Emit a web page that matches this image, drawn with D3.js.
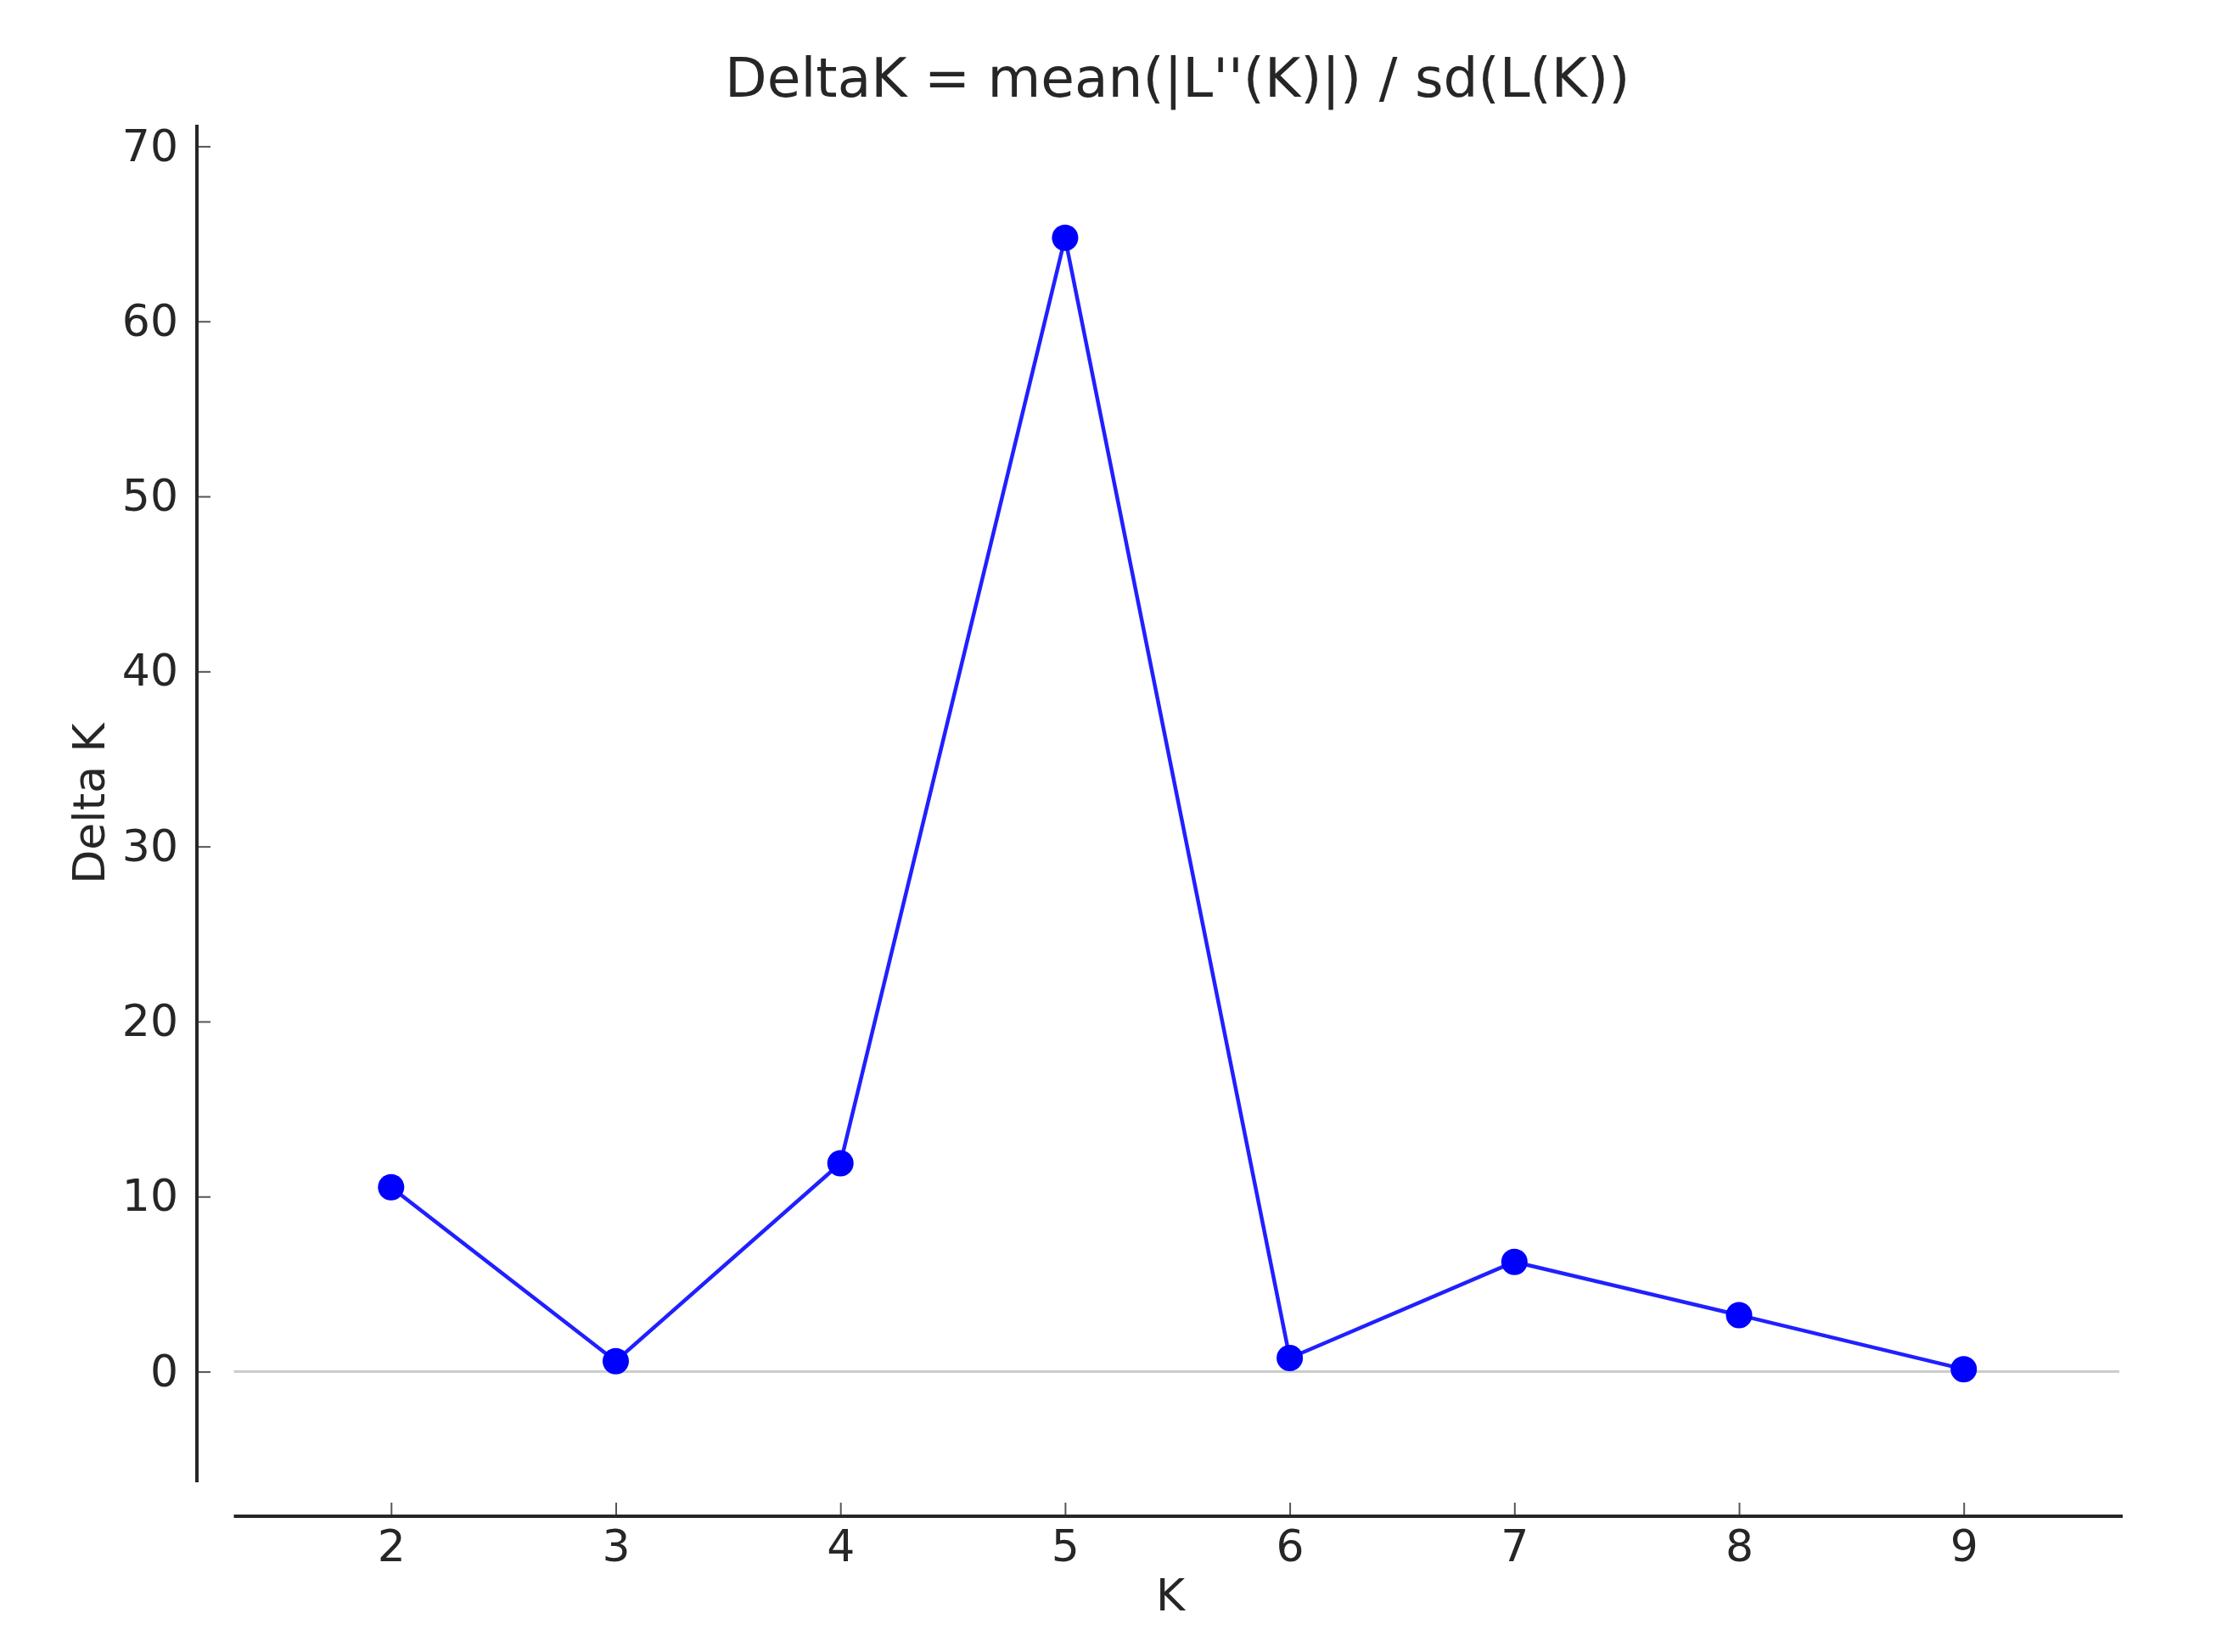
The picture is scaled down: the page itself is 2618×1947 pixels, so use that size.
<!DOCTYPE html>
<html>
<head>
<meta charset="utf-8">
<script src="https://cdn.jsdelivr.net/npm/d3@7"></script>
<style>
  html, body { margin: 0; padding: 0; background: #ffffff; }
  svg { display: block; }
  text { font-family: "DejaVu Sans", sans-serif; fill: #262626; }
</style>
</head>
<body>
<script>
// ---- data ----
const kValues = [2, 3, 4, 5, 6, 7, 8, 9];
const deltaK = [10.53, 0.6, 11.9, 64.77, 0.78, 6.27, 3.23, 0.14];
const xTicks = [2, 3, 4, 5, 6, 7, 8, 9];
const yTicks = [0, 10, 20, 30, 40, 50, 60, 70];
const titleText = "DeltaK = mean(|L''(K)|) / sd(L(K))";
const xLabel = "K";
const yLabel = "Delta K";

// ---- layout ----
const W = 2618, H = 1947;
const plot = { left: 275.5, right: 2499, top: 147, bottom: 1747 };
const ySpineX = 232;     // offset y spine
const xSpineY = 1787;    // offset x spine

const svg = d3.select("body").append("svg")
  .attr("width", W).attr("height", H);

// margins of 10% of data range, like the original
const xMin = d3.min(kValues), xMax = d3.max(kValues);
const yMin = d3.min(deltaK), yMax = d3.max(deltaK);
const xPad = (xMax - xMin) * 0.1, yPad = (yMax - yMin) * 0.1;

const x = d3.scaleLinear().domain([xMin - xPad, xMax + xPad]).range([plot.left, plot.right]);
const y = d3.scaleLinear().domain([yMin - yPad, yMax + yPad]).range([plot.bottom, plot.top]);

const axisColor = "#262626";

// zero reference line
svg.append("line")
  .attr("x1", plot.left).attr("x2", plot.right - 2)
  .attr("y1", y(0)).attr("y2", y(0))
  .attr("stroke", "#cccccc").attr("stroke-width", 3);

// y axis (spine offset outward, ticks pointing inward)
const yAxis = d3.axisLeft(y).tickValues(yTicks).tickSize(-16).tickPadding(22).tickFormat(d3.format("d"));
const gy = svg.append("g").attr("transform", `translate(${ySpineX},0)`).call(yAxis);
gy.select(".domain").remove();
gy.append("line").attr("x1", 0).attr("x2", 0).attr("y1", plot.top).attr("y2", plot.bottom)
  .attr("stroke", axisColor).attr("stroke-width", 4);
gy.selectAll(".tick line").attr("stroke", "#555555").attr("stroke-width", 2);
gy.selectAll(".tick text").attr("font-size", 52).attr("fill", axisColor)
  .attr("font-family", "DejaVu Sans, sans-serif");

// x axis (spine offset outward, ticks pointing inward)
const xAxis = d3.axisBottom(x).tickValues(xTicks).tickSize(-16).tickPadding(16).tickFormat(d3.format("d"));
const gx = svg.append("g").attr("transform", `translate(0,${xSpineY})`).call(xAxis);
gx.select(".domain").remove();
gx.append("line").attr("x1", plot.left).attr("x2", plot.right + 2).attr("y1", 0).attr("y2", 0)
  .attr("stroke", axisColor).attr("stroke-width", 4);
gx.selectAll(".tick line").attr("stroke", "#555555").attr("stroke-width", 2);
gx.selectAll(".tick text").attr("font-size", 52).attr("fill", axisColor)
  .attr("font-family", "DejaVu Sans, sans-serif");

// series line
const pts = kValues.map((k, i) => ({ k, v: deltaK[i] }));
const line = d3.line().x(d => x(d.k)).y(d => y(d.v));
svg.append("path").datum(pts)
  .attr("d", line)
  .attr("fill", "none")
  .attr("stroke", "#2020ff")
  .attr("stroke-width", 4.5)
  .attr("stroke-linejoin", "round");

svg.selectAll("circle.pt").data(pts).enter().append("circle")
  .attr("class", "pt")
  .attr("cx", d => x(d.k)).attr("cy", d => y(d.v))
  .attr("r", 15.5)
  .attr("fill", "#0000ff");

// title
svg.append("text")
  .attr("x", (plot.left + plot.right) / 2).attr("y", 114)
  .attr("text-anchor", "middle")
  .attr("font-size", 64.5)
  .text(titleText);

// axis labels
svg.append("text")
  .attr("x", 1379).attr("y", 1898)
  .attr("text-anchor", "middle")
  .attr("font-size", 52)
  .text(xLabel);

svg.append("text")
  .attr("transform", `translate(123,${(plot.top + plot.bottom) / 2}) rotate(-90)`)
  .attr("text-anchor", "middle")
  .attr("font-size", 52)
  .text(yLabel);
</script>
</body>
</html>
